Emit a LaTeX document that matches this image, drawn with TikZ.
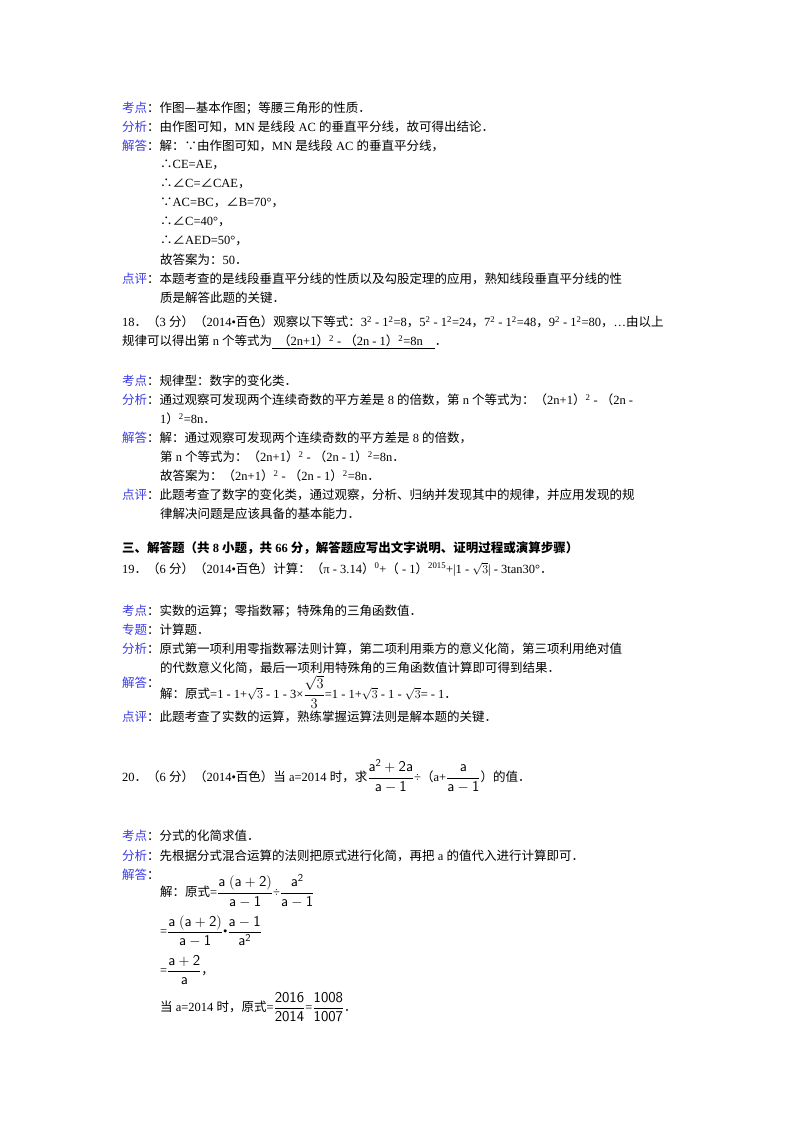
\documentclass[tikz,border=0pt]{standalone}
\usepackage{amsmath}
\usepackage{fontspec}
\setmainfont{Liberation Serif}
\newfontfamily\cjk{Noto Sans CJK SC}
\newfontfamily\latn{Liberation Serif}
\XeTeXinterchartokenstate=1
\newXeTeXintercharclass\cjkclass
\makeatletter
\def\setcls#1#2{\count255=#1\relax\loop\XeTeXcharclass\count255=\cjkclass\relax\ifnum\count255<#2\advance\count255 by 1\repeat}
\makeatother
\setcls{"3000}{"303F}
\setcls{"4E00}{"9FFF}
\setcls{"FF00}{"FFEF}
\setcls{"2234}{"2235}
\XeTeXcharclass"2014=\cjkclass
\XeTeXcharclass"2220=\cjkclass
\XeTeXinterchartoks 0 \cjkclass = {\cjk}
\XeTeXinterchartoks 4095 \cjkclass = {\cjk}
\XeTeXinterchartoks \cjkclass 0 = {\latn}
\XeTeXinterchartoks \cjkclass 4095 = {\latn}
\definecolor{labc}{RGB}{60,60,230}
\newcommand\lab[1]{\textcolor{labc}{#1}：}
\newcommand\sq{\textsuperscript{2}}
\newcommand\bfr[2]{{\fontsize{15}{18}\selectfont$\dfrac{\mathsf{#1}}{\mathsf{#2}}$}}
\begin{document}
\begin{tikzpicture}[x=1pt,y=-1pt,T/.style={anchor=west,inner sep=0pt,font=\fontsize{12.5}{19}\selectfont}]
\useasboundingbox[fill=white] (0,0) rectangle (800,1132);
\node[T] (a1) at (122,108) {\lab{考点}作图—基本作图；等腰三角形的性质．};
\node[T] (a2) at (122,127) {\lab{分析}由作图可知，MN 是线段 AC 的垂直平分线，故可得出结论．};
\node[T] (a3) at (122,146) {\lab{解答}解：∵由作图可知，MN 是线段 AC 的垂直平分线，};
\node[T] (a4) at (160,165) {∴CE=AE，};
\node[T] (a5) at (160,184) {∴∠C=∠CAE，};
\node[T] (a6) at (160,203) {∵AC=BC，∠B=70°，};
\node[T] (a7) at (160,222) {∴∠C=40°，};
\node[T] (a8) at (160,241) {∴∠AED=50°，};
\node[T] (a9) at (160,260) {故答案为：50．};
\node[T] (a10) at (122,279) {\lab{点评}本题考查的是线段垂直平分线的性质以及勾股定理的应用，熟知线段垂直平分线的性};
\node[T] (a11) at (160,298) {质是解答此题的关键．};
\node[T] (b1) at (122,322) {18．（3 分）（2014•百色）观察以下等式：3\sq{} - 1\sq=8，5\sq{} - 1\sq=24，7\sq{} - 1\sq=48，9\sq{} - 1\sq=80，…由以上};
\node[T] (b2) at (122,342) {规律可以得出第 n 个等式为\underline{\hspace{6pt}（2n+1）\sq{} - （2n - 1）\sq=8n\hspace{12pt}}．};
\node[T] (c1) at (122,381) {\lab{考点}规律型：数字的变化类．};
\node[T] (c2) at (122,400) {\lab{分析}通过观察可发现两个连续奇数的平方差是 8 的倍数，第 n 个等式为：（2n+1）\sq{} - （2n -};
\node[T] (c3) at (160,419) {1）\sq=8n．};
\node[T] (c4) at (122,438) {\lab{解答}解：通过观察可发现两个连续奇数的平方差是 8 的倍数，};
\node[T] (c5) at (160,457) {第 n 个等式为：（2n+1）\sq{} - （2n - 1）\sq=8n．};
\node[T] (c6) at (160,476) {故答案为：（2n+1）\sq{} - （2n - 1）\sq=8n．};
\node[T] (c7) at (122,495) {\lab{点评}此题考查了数字的变化类，通过观察，分析、归纳并发现其中的规律，并应用发现的规};
\node[T] (c8) at (160,514) {律解决问题是应该具备的基本能力．};
\node[T] (d0) at (122,548) {\bfseries 三、解答题（共 8 小题，共 66 分，解答题应写出文字说明、证明过程或演算步骤）};
\node[T] (d1) at (122,569) {19．（6 分）（2014•百色）计算：（π - 3.14）\textsuperscript{0}+（ - 1）\textsuperscript{2015}+|1 - $\sqrt{3}$| - 3tan30°．};
\node[T] (e1) at (122,611) {\lab{考点}实数的运算；零指数幂；特殊角的三角函数值．};
\node[T] (e2) at (122,630) {\lab{专题}计算题．};
\node[T] (e3) at (122,649) {\lab{分析}原式第一项利用零指数幂法则计算，第二项利用乘方的意义化简，第三项利用绝对值};
\node[T] (e4) at (160,668) {的代数意义化简，最后一项利用特殊角的三角函数值计算即可得到结果．};
\node[T] (e5) at (122,683) {\lab{解答}};
\node[T] (e6) at (160,692) {解：原式=1 - 1+$\sqrt{3}$ - 1 - 3×{\fontsize{15}{18}\selectfont$\dfrac{\sqrt{3}}{3}$}=1 - 1+$\sqrt{3}$ - 1 - $\sqrt{3}$= - 1．};
\node[T] (e7) at (122,717) {\lab{点评}此题考查了实数的运算，熟练掌握运算法则是解本题的关键．};
\node[T] (f1) at (122,776) {20．（6 分）（2014•百色）当 a=2014 时，求\bfr{a^2+2a}{a-1}÷（a+\bfr{a}{a-1}）的值．};
\node[T] (g1) at (122,836) {\lab{考点}分式的化简求值．};
\node[T] (g2) at (122,856) {\lab{分析}先根据分式混合运算的法则把原式进行化简，再把 a 的值代入进行计算即可．};
\node[T] (g3) at (122,875) {\lab{解答}};
\node[T] (g4) at (160,891) {解：原式=\bfr{a\ (a+2)}{a-1}÷\bfr{a^2}{a-1}};
\node[T] (g5) at (160,931) {=\bfr{a\ (a+2)}{a-1}•\bfr{a-1}{a^2}};
\node[T] (g6) at (160,970) {=\bfr{a+2}{a}，};
\node[T] (g7) at (160,1007) {当 a=2014 时，原式=\bfr{2016}{2014}=\bfr{1008}{1007}．};
\end{tikzpicture}
\end{document}
